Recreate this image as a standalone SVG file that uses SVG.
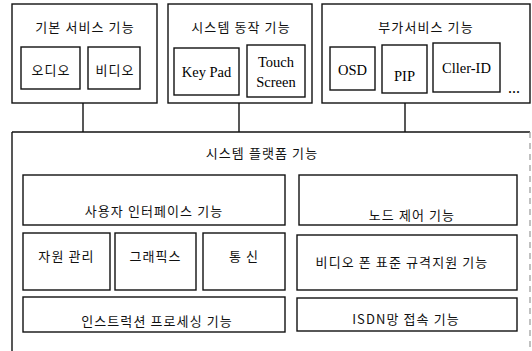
<svg xmlns="http://www.w3.org/2000/svg" width="532" height="351" viewBox="0 0 532 351">
<style>
  .box { fill: none; stroke: #111; stroke-width: 1.4; }
  .ko { font-family: "Noto Sans CJK KR", "Noto Sans", sans-serif; font-size: 13px; letter-spacing: 1.1px; fill: #111; text-anchor: middle; }
  .en { font-family: "Liberation Serif", "Times New Roman", serif; font-size: 14.5px; fill: #000; text-anchor: middle; }
  .conn { stroke: #111; stroke-width: 1.4; fill: none; }
</style>
<rect width="532" height="351" fill="#fff"/>
<g id="connectors">
  <line class="conn" x1="83" y1="103" x2="83" y2="132"/>
  <line class="conn" x1="239" y1="103" x2="239" y2="132"/>
  <line class="conn" x1="405" y1="103" x2="405" y2="132"/>
</g>
<g id="basic-service">
  <rect class="box" x="12" y="4" width="145" height="99"/>
  <text class="ko" x="85" y="32">기본 서비스 기능</text>
  <g id="audio">
    <rect class="box" x="21" y="47" width="59" height="42"/>
    <text class="ko" x="51" y="75">오디오</text>
  </g>
  <g id="video">
    <rect class="box" x="88" y="47" width="52" height="42"/>
    <text class="ko" x="115" y="75">비디오</text>
  </g>
</g>
<g id="system-operation">
  <rect class="box" x="168" y="4" width="144" height="99"/>
  <text class="ko" x="241" y="32">시스템 동작 기능</text>
  <g id="keypad">
    <rect class="box" x="174" y="48" width="65" height="47"/>
    <text class="en" x="206.5" y="77">Key Pad</text>
  </g>
  <g id="touch-screen">
    <rect class="box" x="247" y="45" width="58" height="52"/>
    <text class="en" x="276" y="67">Touch</text>
    <text class="en" x="276" y="87">Screen</text>
  </g>
</g>
<g id="additional-service">
  <rect class="box" x="322" y="4" width="208" height="99"/>
  <text class="ko" x="426" y="32">부가서비스 기능</text>
  <g id="osd">
    <rect class="box" x="330" y="47" width="45" height="43"/>
    <text class="en" x="352.5" y="75">OSD</text>
  </g>
  <g id="pip">
    <rect class="box" x="382" y="45" width="45" height="48"/>
    <text class="en" x="404.5" y="81">PIP</text>
  </g>
  <g id="caller-id">
    <rect class="box" x="433" y="43" width="67" height="49"/>
    <text class="en" x="466.5" y="73">Cller-ID</text>
  </g>
  <text class="en" x="514" y="93" style="font-size:16px">...</text>
</g>
<g id="platform">
  <line class="conn" x1="12" y1="132" x2="530" y2="132"/>
  <line class="conn" x1="12" y1="132" x2="12" y2="351"/>
  <line x1="530" y1="132" x2="530" y2="351" stroke="#999" stroke-width="1.2" stroke-dasharray="6 5"/>
  <text class="ko" x="262" y="158">시스템 플랫폼 기능</text>
  <g id="user-interface">
    <rect class="box" x="23" y="175" width="262" height="50"/>
    <text class="ko" x="154" y="216">사용자 인터페이스 기능</text>
  </g>
  <g id="node-control">
    <rect class="box" x="299" y="175" width="218" height="50"/>
    <text class="ko" x="412" y="220">노드 제어 기능</text>
  </g>
  <g id="resource-mgmt">
    <rect class="box" x="23" y="233" width="87" height="57"/>
    <text class="ko" x="66.5" y="261">자원 관리</text>
  </g>
  <g id="graphics">
    <rect class="box" x="115" y="233" width="81" height="57"/>
    <text class="ko" x="155.5" y="261">그래픽스</text>
  </g>
  <g id="communication">
    <rect class="box" x="203" y="233" width="82" height="57"/>
    <text class="ko" x="244" y="261">통 신</text>
  </g>
  <g id="videophone-standard">
    <rect class="box" x="297" y="235" width="220" height="55"/>
    <text class="ko" x="402" y="267">비디오 폰 표준 규격지원 기능</text>
  </g>
  <g id="instruction-processing">
    <rect class="box" x="23" y="297" width="262" height="35"/>
    <text class="ko" x="157" y="326">인스트럭션 프로세싱 기능</text>
  </g>
  <g id="isdn-access">
    <rect class="box" x="297" y="298" width="220" height="33"/>
    <text class="ko" x="406" y="324">ISDN망 접속 기능</text>
  </g>
</g>
</svg>
